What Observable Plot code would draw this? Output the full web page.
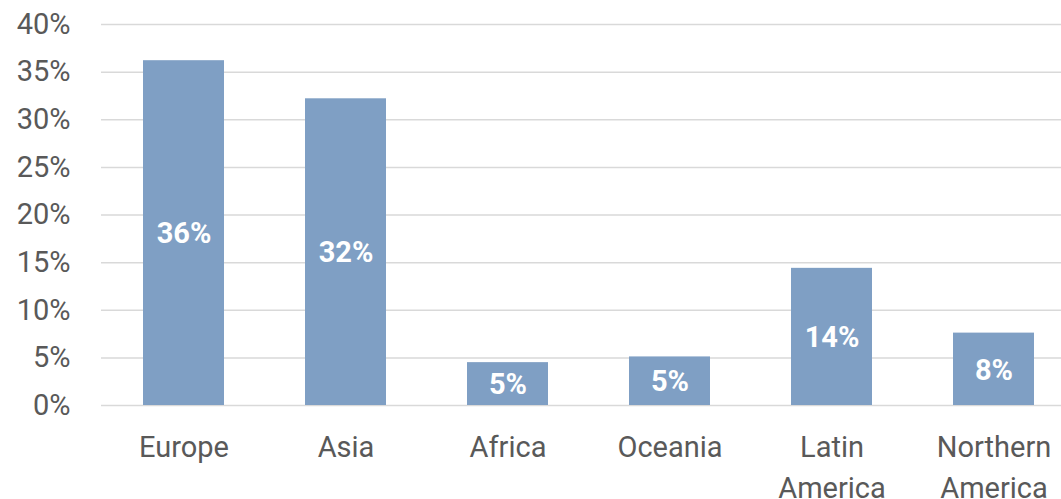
<!DOCTYPE html>
<html>
<head>
<meta charset="utf-8">
<script src="https://cdn.jsdelivr.net/npm/d3@7"></script>
<script src="https://cdn.jsdelivr.net/npm/@observablehq/plot@0.6"></script>
<style>
  html, body { margin: 0; padding: 0; background: #fff; overflow: hidden; }
  #chart { width: 1061px; height: 499px; overflow: hidden; }
  #chart svg { max-width: none !important; }
</style>
</head>
<body>
<div id="chart"></div>
<script>
const regions = ["Europe", "Asia", "Africa", "Oceania", "Latin America", "Northern America"];
const regionLabels = ["Europe", "Asia", "Africa", "Oceania", "Latin\nAmerica", "Northern\nAmerica"];
const shares = [0.362, 0.322, 0.045, 0.051, 0.144, 0.076];
const shareLabels = ["36%", "32%", "5%", "5%", "14%", "8%"];
const yTicks = [0, 0.05, 0.10, 0.15, 0.20, 0.25, 0.30, 0.35, 0.40];

const data = regions.map((r, i) => ({region: r, value: shares[i], label: shareLabels[i]}));
const labelOf = new Map(regions.map((r, i) => [r, regionLabels[i]]));

const font = "Roboto, 'Liberation Sans', Arial, sans-serif";

const chart = Plot.plot({
  width: 1075,
  height: 499,
  marginLeft: 101,
  marginRight: 0,
  marginTop: 24,
  marginBottom: 94,
  style: {fontFamily: font, background: "#fff", maxWidth: "none"},
  x: {domain: regions, paddingInner: 0.5, paddingOuter: 0.25, align: 0.5},
  y: {domain: [0, 0.40]},
  marks: [
    Plot.gridY(yTicks, {stroke: "#d9d9d9", strokeOpacity: 1, strokeWidth: 1.5}),
    Plot.barY(data, {x: "region", y: "value", fill: "#7f9fc4"}),
    Plot.text(data, {
      x: "region",
      y: d => d.value / 2,
      text: "label",
      fill: "white",
      fontWeight: "bold",
      fontSize: 29,
      dy: 1,
      fontFamily: font
    }),
    Plot.axisY(yTicks, {
      tickSize: 0,
      tickPadding: 31,
      tickFormat: d => Math.round(d * 100) + "%",
      fontSize: 29,
      fill: "#595959",
      label: null
    }),
    Plot.axisX({
      tickSize: 0,
      tickPadding: 23,
      tickFormat: d => labelOf.get(d),
      fontSize: 29,
      lineHeight: 1.4,
      fill: "#595959",
      label: null
    })
  ]
});
document.getElementById("chart").appendChild(chart);
</script>
</body>
</html>
